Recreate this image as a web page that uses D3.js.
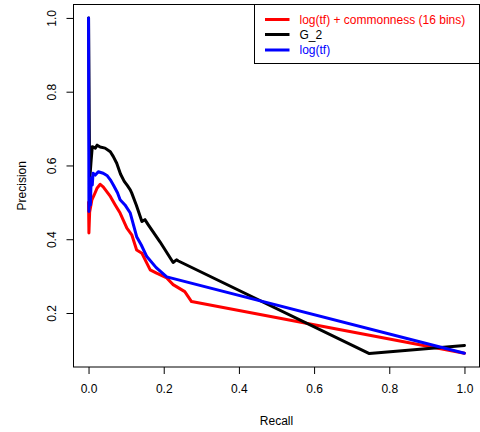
<!DOCTYPE html>
<html><head><meta charset="utf-8">
<script src="https://cdn.jsdelivr.net/npm/d3@7"></script>
<style>
body{margin:0;background:#fff;}
svg{display:block;font-family:"Liberation Sans",Arial,Helvetica,sans-serif;}
</style></head>
<body><svg id="c" width="480" height="432"></svg>
<script>
// Series data: [recall, precision]
const redCommonness = [
 [0.0,0.50],[0.001,0.417],[0.003,0.474],[0.009,0.507],[0.015,0.520],[0.023,0.539],[0.031,0.549],
 [0.039,0.542],[0.044,0.535],[0.058,0.516],[0.071,0.493],[0.084,0.471],[0.102,0.430],[0.115,0.412],
 [0.128,0.371],[0.142,0.362],[0.155,0.335],[0.164,0.317],[0.181,0.308],[0.208,0.295],[0.225,0.277],
 [0.256,0.258],[0.274,0.231],[1.0,0.091]
];
const blackG2 = [
 [0.0,1.0],[0.003,0.56],[0.007,0.615],[0.010,0.651],[0.018,0.647],[0.023,0.655],[0.031,0.650],
 [0.044,0.647],[0.058,0.637],[0.066,0.624],[0.075,0.606],[0.085,0.577],[0.095,0.557],[0.103,0.546],
 [0.111,0.534],[0.115,0.525],[0.127,0.493],[0.142,0.448],[0.150,0.453],[0.159,0.439],[0.190,0.393],
 [0.225,0.337],[0.234,0.344],[0.239,0.341],[0.747,0.090],[1.0,0.112]
];
const blueLogTf = [
 [0.0,1.0],[0.001,0.475],[0.003,0.561],[0.005,0.493],[0.007,0.566],[0.010,0.547],[0.012,0.579],
 [0.018,0.574],[0.026,0.583],[0.039,0.579],[0.050,0.572],[0.058,0.561],[0.066,0.547],[0.077,0.526],
 [0.084,0.507],[0.097,0.493],[0.111,0.471],[0.128,0.407],[0.140,0.385],[0.155,0.353],[0.180,0.323],
 [0.208,0.298],[1.0,0.091]
];
const seriesNames = ["log(tf) + commonness (16 bins)","G_2","log(tf)"];
const seriesColors = ["#ff0000","#000000","#0000ff"];
const xTicks = [0,0.2,0.4,0.6,0.8,1.0];
const yTicks = [0.2,0.4,0.6,0.8,1.0];

const svg = d3.select("#c");
const L=73.5, R=479.5, T=4.5, B=367;
const x = d3.scaleLinear().domain([-0.04,1.04]).range([L,R]);
const y = d3.scaleLinear().domain([0.0536,1.0364]).range([B,T]);

const plot = svg.append("g");
const line = d3.line().x(d=>x(d[0])).y(d=>y(d[1]));
[redCommonness, blackG2, blueLogTf].forEach((s,i)=>{
  plot.append("path").datum(s).attr("d",line).attr("fill","none")
    .attr("stroke",seriesColors[i]).attr("stroke-width",3)
    .attr("stroke-linejoin","round").attr("stroke-linecap","round");
});

// box
svg.append("rect").attr("x",L).attr("y",T).attr("width",R-L).attr("height",B-T)
  .attr("fill","none").attr("stroke","#000").attr("stroke-width",1);

// x axis
const gx = svg.append("g").attr("transform",`translate(0,${B})`)
  .call(d3.axisBottom(x).tickValues(xTicks).tickFormat(d3.format(".1f")).tickSize(7).tickPadding(10));
gx.select(".domain").remove();
gx.selectAll("line").attr("stroke","#000");
gx.selectAll("text").attr("font-size",12).attr("fill","#000").attr("font-family",null);

// y axis
const gy = svg.append("g").attr("transform",`translate(${L},0)`)
  .call(d3.axisLeft(y).tickValues(yTicks).tickFormat(d3.format(".1f")).tickSize(7));
gy.select(".domain").remove();
gy.selectAll("line").attr("stroke","#000");
gy.selectAll("text").attr("font-size",12).attr("fill","#000").attr("font-family",null)
  .attr("transform","rotate(-90)").attr("x",0).attr("y",-18).attr("dy",0)
  .attr("text-anchor","middle");

// axis titles
svg.append("text").attr("x",(L+R)/2).attr("y",425).attr("text-anchor","middle")
  .attr("font-size",12).text("Recall");
svg.append("text").attr("transform",`translate(26,${(T+B)/2}) rotate(-90)`)
  .attr("text-anchor","middle").attr("font-size",12).text("Precision");

// legend
const lg = svg.append("g");
lg.append("rect").attr("x",254.5).attr("y",T).attr("width",R-254.5).attr("height",63.5-T)
  .attr("fill","#fff").attr("stroke","#000").attr("stroke-width",1);
const rowsY = [19.5,34.5,50];
seriesNames.forEach((n,i)=>{
  lg.append("line").attr("x1",265).attr("x2",289.5).attr("y1",rowsY[i]).attr("y2",rowsY[i])
    .attr("stroke",seriesColors[i]).attr("stroke-width",3);
  lg.append("text").attr("x",299.5).attr("y",rowsY[i]).attr("dy","0.35em")
    .attr("font-size",12).attr("fill",seriesColors[i]).text(n);
});
</script></body></html>
